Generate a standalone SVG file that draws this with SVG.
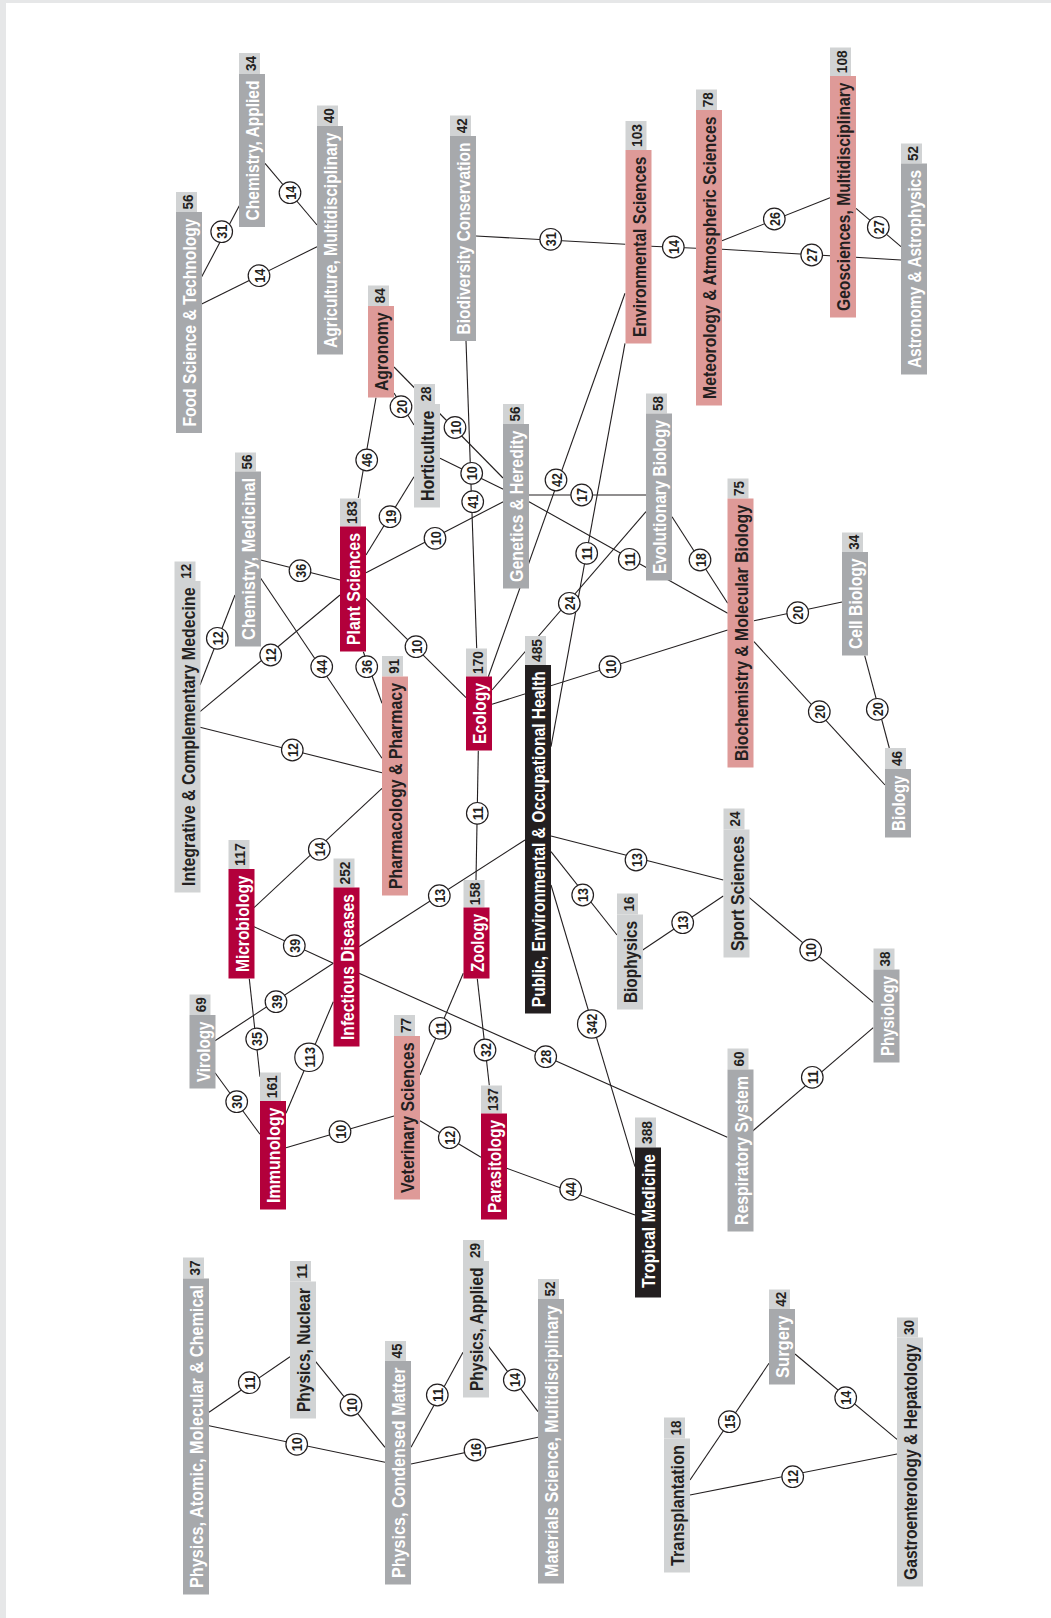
<svg xmlns="http://www.w3.org/2000/svg" width="1051" height="1618" viewBox="0 0 1051 1618">
<style>
text{font-family:"Liberation Sans Narrow","Liberation Sans",Arial,sans-serif;font-weight:bold}
.lb{font-size:19px;text-anchor:middle}
.cn{font-size:15.5px;text-anchor:middle;fill:#231f20}
.red .bx{fill:#b3003b}.red .lb{fill:#fff}
.pink .bx{fill:#de9a98}.pink .lb{fill:#231f20}
.gray .bx{fill:#a7a9ac}.gray .lb{fill:#fff}
.lgray .bx{fill:#d1d3d4}.lgray .lb{fill:#231f20}
.black .bx{fill:#231f20}.black .lb{fill:#fff}
.cb{fill:#d1d3d4}
#connectors line{stroke:#231f20;stroke-width:1.1}
.el circle{fill:#fff;stroke:#231f20;stroke-width:1.2}
.el text{font-size:15.5px;text-anchor:middle;fill:#231f20}
</style>
<rect width="1051" height="1618" fill="#e6e7e8"/>
<rect x="6" y="3" width="1045" height="1615" fill="#fff"/>
<g id="connectors">
<line x1="201.7" y1="276.7" x2="239.3" y2="205.7"/>
<line x1="265" y1="163.3" x2="317" y2="225"/>
<line x1="201.7" y1="304" x2="317" y2="246.7"/>
<line x1="476" y1="236" x2="625.3" y2="244.3"/>
<line x1="651" y1="246.3" x2="696" y2="248.3"/>
<line x1="722" y1="240.7" x2="830" y2="197.7"/>
<line x1="722" y1="249.3" x2="901" y2="260"/>
<line x1="856" y1="208.3" x2="901" y2="246.7"/>
<line x1="394" y1="393" x2="414" y2="425"/>
<line x1="394" y1="367" x2="503" y2="478"/>
<line x1="358.3" y1="498" x2="376" y2="397.7"/>
<line x1="366" y1="555" x2="414" y2="476.7"/>
<line x1="440" y1="458.3" x2="503.3" y2="489.3"/>
<line x1="466" y1="340.7" x2="476.7" y2="648.3"/>
<line x1="366" y1="572.7" x2="503.3" y2="501.7"/>
<line x1="529" y1="495" x2="646" y2="495"/>
<line x1="488.3" y1="676.7" x2="625" y2="293.3"/>
<line x1="551" y1="746.7" x2="625" y2="343.3"/>
<line x1="529" y1="501.7" x2="727.7" y2="613.3"/>
<line x1="672" y1="516.7" x2="727.7" y2="603.3"/>
<line x1="492" y1="690" x2="646" y2="511.7"/>
<line x1="492" y1="704.3" x2="727.7" y2="630"/>
<line x1="754" y1="620.7" x2="842" y2="602"/>
<line x1="754" y1="641.7" x2="885" y2="785"/>
<line x1="864.7" y1="655.7" x2="889.3" y2="748"/>
<line x1="366" y1="598.3" x2="466" y2="697.7"/>
<line x1="363.3" y1="651.7" x2="382" y2="703.3"/>
<line x1="260.7" y1="560" x2="340" y2="580"/>
<line x1="260.7" y1="578.3" x2="382" y2="758.3"/>
<line x1="200" y1="685" x2="235" y2="595"/>
<line x1="200" y1="711.7" x2="340" y2="595"/>
<line x1="200" y1="727.3" x2="382" y2="772.7"/>
<line x1="254" y1="907.7" x2="382" y2="788.3"/>
<line x1="478.3" y1="750.7" x2="476" y2="880"/>
<line x1="359" y1="946.7" x2="525" y2="840"/>
<line x1="254" y1="926.7" x2="333.3" y2="963.3"/>
<line x1="215" y1="1040.7" x2="333.3" y2="963.3"/>
<line x1="249.3" y1="978.7" x2="260" y2="1076.7"/>
<line x1="215" y1="1072.7" x2="260" y2="1134.3"/>
<line x1="286" y1="1113.3" x2="333.3" y2="1001.7"/>
<line x1="286" y1="1147.7" x2="394" y2="1116"/>
<line x1="463.3" y1="973.3" x2="420" y2="1075"/>
<line x1="477.3" y1="978.7" x2="489.3" y2="1085.3"/>
<line x1="420" y1="1120.7" x2="481" y2="1157.3"/>
<line x1="506.7" y1="1168.3" x2="635" y2="1215"/>
<line x1="359" y1="973.3" x2="727.3" y2="1137.3"/>
<line x1="551" y1="885" x2="635" y2="1166.7"/>
<line x1="551" y1="836" x2="723.3" y2="880"/>
<line x1="551" y1="851.7" x2="617" y2="935"/>
<line x1="642.7" y1="950" x2="723.3" y2="896"/>
<line x1="749" y1="897.3" x2="873.3" y2="1002.3"/>
<line x1="752.7" y1="1131" x2="873.3" y2="1027.7"/>
<line x1="209" y1="1412.3" x2="290" y2="1356.7"/>
<line x1="209" y1="1425.7" x2="385" y2="1462.3"/>
<line x1="315.7" y1="1361.7" x2="385" y2="1447.3"/>
<line x1="411" y1="1447.3" x2="463" y2="1352.3"/>
<line x1="488.7" y1="1346.7" x2="538" y2="1411.7"/>
<line x1="411" y1="1464" x2="538" y2="1437.3"/>
<line x1="690" y1="1480" x2="769" y2="1363.3"/>
<line x1="690" y1="1495" x2="897" y2="1454"/>
<line x1="795" y1="1354" x2="897" y2="1439.3"/>
<g class="el" transform="translate(221.7,231.7)"><circle r="10.8"/><text transform="translate(5.6,0) rotate(-90)" textLength="14" lengthAdjust="spacingAndGlyphs">31</text></g>
<g class="el" transform="translate(290,192.7)"><circle r="10.8"/><text transform="translate(5.6,0) rotate(-90)" textLength="14" lengthAdjust="spacingAndGlyphs">14</text></g>
<g class="el" transform="translate(259,275.7)"><circle r="10.8"/><text transform="translate(5.6,0) rotate(-90)" textLength="14" lengthAdjust="spacingAndGlyphs">14</text></g>
<g class="el" transform="translate(550.7,239.3)"><circle r="10.8"/><text transform="translate(5.6,0) rotate(-90)" textLength="14" lengthAdjust="spacingAndGlyphs">31</text></g>
<g class="el" transform="translate(673.3,247)"><circle r="10.8"/><text transform="translate(5.6,0) rotate(-90)" textLength="14" lengthAdjust="spacingAndGlyphs">14</text></g>
<g class="el" transform="translate(774.3,219)"><circle r="10.8"/><text transform="translate(5.6,0) rotate(-90)" textLength="14" lengthAdjust="spacingAndGlyphs">26</text></g>
<g class="el" transform="translate(811.7,255)"><circle r="10.8"/><text transform="translate(5.6,0) rotate(-90)" textLength="14" lengthAdjust="spacingAndGlyphs">27</text></g>
<g class="el" transform="translate(878.3,227.3)"><circle r="10.8"/><text transform="translate(5.6,0) rotate(-90)" textLength="14" lengthAdjust="spacingAndGlyphs">27</text></g>
<g class="el" transform="translate(401,406.7)"><circle r="10.8"/><text transform="translate(5.6,0) rotate(-90)" textLength="14" lengthAdjust="spacingAndGlyphs">20</text></g>
<g class="el" transform="translate(455,427.5)"><circle r="10.8"/><text transform="translate(5.6,0) rotate(-90)" textLength="14" lengthAdjust="spacingAndGlyphs">10</text></g>
<g class="el" transform="translate(366.7,460)"><circle r="10.8"/><text transform="translate(5.6,0) rotate(-90)" textLength="14" lengthAdjust="spacingAndGlyphs">46</text></g>
<g class="el" transform="translate(390,516.7)"><circle r="10.8"/><text transform="translate(5.6,0) rotate(-90)" textLength="14" lengthAdjust="spacingAndGlyphs">19</text></g>
<g class="el" transform="translate(471.7,473.3)"><circle r="10.8"/><text transform="translate(5.6,0) rotate(-90)" textLength="14" lengthAdjust="spacingAndGlyphs">10</text></g>
<g class="el" transform="translate(472.7,501.7)"><circle r="10.8"/><text transform="translate(5.6,0) rotate(-90)" textLength="14" lengthAdjust="spacingAndGlyphs">41</text></g>
<g class="el" transform="translate(435,538.3)"><circle r="10.8"/><text transform="translate(5.6,0) rotate(-90)" textLength="14" lengthAdjust="spacingAndGlyphs">10</text></g>
<g class="el" transform="translate(581.7,495)"><circle r="10.8"/><text transform="translate(5.6,0) rotate(-90)" textLength="14" lengthAdjust="spacingAndGlyphs">17</text></g>
<g class="el" transform="translate(556,480)"><circle r="10.8"/><text transform="translate(5.6,0) rotate(-90)" textLength="14" lengthAdjust="spacingAndGlyphs">42</text></g>
<g class="el" transform="translate(586.7,553.3)"><circle r="10.8"/><text transform="translate(5.6,0) rotate(-90)" textLength="14" lengthAdjust="spacingAndGlyphs">11</text></g>
<g class="el" transform="translate(629.3,559.3)"><circle r="10.8"/><text transform="translate(5.6,0) rotate(-90)" textLength="14" lengthAdjust="spacingAndGlyphs">11</text></g>
<g class="el" transform="translate(700,560)"><circle r="10.8"/><text transform="translate(5.6,0) rotate(-90)" textLength="14" lengthAdjust="spacingAndGlyphs">18</text></g>
<g class="el" transform="translate(569.3,603.3)"><circle r="10.8"/><text transform="translate(5.6,0) rotate(-90)" textLength="14" lengthAdjust="spacingAndGlyphs">24</text></g>
<g class="el" transform="translate(610,666.7)"><circle r="10.8"/><text transform="translate(5.6,0) rotate(-90)" textLength="14" lengthAdjust="spacingAndGlyphs">10</text></g>
<g class="el" transform="translate(797.7,612.7)"><circle r="10.8"/><text transform="translate(5.6,0) rotate(-90)" textLength="14" lengthAdjust="spacingAndGlyphs">20</text></g>
<g class="el" transform="translate(819.3,711.7)"><circle r="10.8"/><text transform="translate(5.6,0) rotate(-90)" textLength="14" lengthAdjust="spacingAndGlyphs">20</text></g>
<g class="el" transform="translate(877.3,709.3)"><circle r="10.8"/><text transform="translate(5.6,0) rotate(-90)" textLength="14" lengthAdjust="spacingAndGlyphs">20</text></g>
<g class="el" transform="translate(416,646.7)"><circle r="10.8"/><text transform="translate(5.6,0) rotate(-90)" textLength="14" lengthAdjust="spacingAndGlyphs">10</text></g>
<g class="el" transform="translate(366.7,666.7)"><circle r="10.8"/><text transform="translate(5.6,0) rotate(-90)" textLength="14" lengthAdjust="spacingAndGlyphs">36</text></g>
<g class="el" transform="translate(300,570.7)"><circle r="10.8"/><text transform="translate(5.6,0) rotate(-90)" textLength="14" lengthAdjust="spacingAndGlyphs">36</text></g>
<g class="el" transform="translate(321.7,666.7)"><circle r="10.8"/><text transform="translate(5.6,0) rotate(-90)" textLength="14" lengthAdjust="spacingAndGlyphs">44</text></g>
<g class="el" transform="translate(217.3,638.3)"><circle r="10.8"/><text transform="translate(5.6,0) rotate(-90)" textLength="14" lengthAdjust="spacingAndGlyphs">12</text></g>
<g class="el" transform="translate(270.7,655)"><circle r="10.8"/><text transform="translate(5.6,0) rotate(-90)" textLength="14" lengthAdjust="spacingAndGlyphs">12</text></g>
<g class="el" transform="translate(292.3,750)"><circle r="10.8"/><text transform="translate(5.6,0) rotate(-90)" textLength="14" lengthAdjust="spacingAndGlyphs">12</text></g>
<g class="el" transform="translate(319.3,849.3)"><circle r="10.8"/><text transform="translate(5.6,0) rotate(-90)" textLength="14" lengthAdjust="spacingAndGlyphs">14</text></g>
<g class="el" transform="translate(477.3,813.3)"><circle r="10.8"/><text transform="translate(5.6,0) rotate(-90)" textLength="14" lengthAdjust="spacingAndGlyphs">11</text></g>
<g class="el" transform="translate(439.3,895.7)"><circle r="10.8"/><text transform="translate(5.6,0) rotate(-90)" textLength="14" lengthAdjust="spacingAndGlyphs">13</text></g>
<g class="el" transform="translate(294.3,945.7)"><circle r="10.8"/><text transform="translate(5.6,0) rotate(-90)" textLength="14" lengthAdjust="spacingAndGlyphs">39</text></g>
<g class="el" transform="translate(276,1001.7)"><circle r="10.8"/><text transform="translate(5.6,0) rotate(-90)" textLength="14" lengthAdjust="spacingAndGlyphs">39</text></g>
<g class="el" transform="translate(256.7,1039)"><circle r="10.8"/><text transform="translate(5.6,0) rotate(-90)" textLength="14" lengthAdjust="spacingAndGlyphs">35</text></g>
<g class="el" transform="translate(236.7,1101.7)"><circle r="10.8"/><text transform="translate(5.6,0) rotate(-90)" textLength="14" lengthAdjust="spacingAndGlyphs">30</text></g>
<g class="el" transform="translate(309,1057.3)"><circle r="14.2"/><text transform="translate(5.6,0) rotate(-90)" textLength="20.5" lengthAdjust="spacingAndGlyphs">113</text></g>
<g class="el" transform="translate(340,1131.7)"><circle r="10.8"/><text transform="translate(5.6,0) rotate(-90)" textLength="14" lengthAdjust="spacingAndGlyphs">10</text></g>
<g class="el" transform="translate(440,1028.3)"><circle r="10.8"/><text transform="translate(5.6,0) rotate(-90)" textLength="14" lengthAdjust="spacingAndGlyphs">11</text></g>
<g class="el" transform="translate(485,1050)"><circle r="10.8"/><text transform="translate(5.6,0) rotate(-90)" textLength="14" lengthAdjust="spacingAndGlyphs">32</text></g>
<g class="el" transform="translate(449.3,1137.7)"><circle r="10.8"/><text transform="translate(5.6,0) rotate(-90)" textLength="14" lengthAdjust="spacingAndGlyphs">12</text></g>
<g class="el" transform="translate(570.7,1189.3)"><circle r="10.8"/><text transform="translate(5.6,0) rotate(-90)" textLength="14" lengthAdjust="spacingAndGlyphs">44</text></g>
<g class="el" transform="translate(545.7,1056.7)"><circle r="10.8"/><text transform="translate(5.6,0) rotate(-90)" textLength="14" lengthAdjust="spacingAndGlyphs">28</text></g>
<g class="el" transform="translate(591.7,1024)"><circle r="14.2"/><text transform="translate(5.6,0) rotate(-90)" textLength="20.5" lengthAdjust="spacingAndGlyphs">342</text></g>
<g class="el" transform="translate(636,860)"><circle r="10.8"/><text transform="translate(5.6,0) rotate(-90)" textLength="14" lengthAdjust="spacingAndGlyphs">13</text></g>
<g class="el" transform="translate(582.7,895)"><circle r="10.8"/><text transform="translate(5.6,0) rotate(-90)" textLength="14" lengthAdjust="spacingAndGlyphs">13</text></g>
<g class="el" transform="translate(682.7,922.7)"><circle r="10.8"/><text transform="translate(5.6,0) rotate(-90)" textLength="14" lengthAdjust="spacingAndGlyphs">13</text></g>
<g class="el" transform="translate(810.7,950)"><circle r="10.8"/><text transform="translate(5.6,0) rotate(-90)" textLength="14" lengthAdjust="spacingAndGlyphs">10</text></g>
<g class="el" transform="translate(812.3,1077.3)"><circle r="10.8"/><text transform="translate(5.6,0) rotate(-90)" textLength="14" lengthAdjust="spacingAndGlyphs">11</text></g>
<g class="el" transform="translate(249.3,1382.7)"><circle r="10.8"/><text transform="translate(5.6,0) rotate(-90)" textLength="14" lengthAdjust="spacingAndGlyphs">11</text></g>
<g class="el" transform="translate(296.7,1444.3)"><circle r="10.8"/><text transform="translate(5.6,0) rotate(-90)" textLength="14" lengthAdjust="spacingAndGlyphs">10</text></g>
<g class="el" transform="translate(351,1405)"><circle r="10.8"/><text transform="translate(5.6,0) rotate(-90)" textLength="14" lengthAdjust="spacingAndGlyphs">10</text></g>
<g class="el" transform="translate(437.3,1395)"><circle r="10.8"/><text transform="translate(5.6,0) rotate(-90)" textLength="14" lengthAdjust="spacingAndGlyphs">11</text></g>
<g class="el" transform="translate(514.3,1380)"><circle r="10.8"/><text transform="translate(5.6,0) rotate(-90)" textLength="14" lengthAdjust="spacingAndGlyphs">14</text></g>
<g class="el" transform="translate(475,1450)"><circle r="10.8"/><text transform="translate(5.6,0) rotate(-90)" textLength="14" lengthAdjust="spacingAndGlyphs">16</text></g>
<g class="el" transform="translate(729.3,1421.7)"><circle r="10.8"/><text transform="translate(5.6,0) rotate(-90)" textLength="14" lengthAdjust="spacingAndGlyphs">15</text></g>
<g class="el" transform="translate(792.7,1476.7)"><circle r="10.8"/><text transform="translate(5.6,0) rotate(-90)" textLength="14" lengthAdjust="spacingAndGlyphs">12</text></g>
<g class="el" transform="translate(845.7,1397.7)"><circle r="10.8"/><text transform="translate(5.6,0) rotate(-90)" textLength="14" lengthAdjust="spacingAndGlyphs">14</text></g>
</g>
<g id="n-food" class="gray"><rect class="cb" x="176" y="192" width="21" height="20"/><text class="cn" transform="translate(192.5,202) rotate(-90)" textLength="15" lengthAdjust="spacingAndGlyphs">56</text><rect class="bx" x="176" y="212" width="26" height="221"/><text class="lb" transform="translate(196,322.5) rotate(-90)" textLength="208" lengthAdjust="spacingAndGlyphs">Food Science &amp; Technology</text></g>
<g id="n-chemapp" class="gray"><rect class="cb" x="239" y="53" width="21" height="21"/><text class="cn" transform="translate(255.5,63.5) rotate(-90)" textLength="15" lengthAdjust="spacingAndGlyphs">34</text><rect class="bx" x="239" y="74" width="26" height="153"/><text class="lb" transform="translate(259,150.5) rotate(-90)" textLength="140" lengthAdjust="spacingAndGlyphs">Chemistry, Applied</text></g>
<g id="n-agri" class="gray"><rect class="cb" x="317" y="105.5" width="21" height="20.5"/><text class="cn" transform="translate(333.5,115.75) rotate(-90)" textLength="15" lengthAdjust="spacingAndGlyphs">40</text><rect class="bx" x="317" y="126" width="26" height="228.5"/><text class="lb" transform="translate(337,240.25) rotate(-90)" textLength="215.5" lengthAdjust="spacingAndGlyphs">Agriculture, Multidisciplinary</text></g>
<g id="n-biodiv" class="gray"><rect class="cb" x="450" y="115.5" width="21" height="20.5"/><text class="cn" transform="translate(466.5,125.75) rotate(-90)" textLength="15" lengthAdjust="spacingAndGlyphs">42</text><rect class="bx" x="450" y="136" width="26" height="205"/><text class="lb" transform="translate(470,238.5) rotate(-90)" textLength="192" lengthAdjust="spacingAndGlyphs">Biodiversity Conservation</text></g>
<g id="n-envsci" class="pink"><rect class="cb" x="625.5" y="121" width="21" height="29"/><text class="cn" transform="translate(642,135.5) rotate(-90)" textLength="23" lengthAdjust="spacingAndGlyphs">103</text><rect class="bx" x="625.5" y="150" width="26" height="193.5"/><text class="lb" transform="translate(645.5,246.75) rotate(-90)" textLength="180.5" lengthAdjust="spacingAndGlyphs">Environmental Sciences</text></g>
<g id="n-meteo" class="pink"><rect class="cb" x="696" y="89.5" width="21" height="20.5"/><text class="cn" transform="translate(712.5,99.75) rotate(-90)" textLength="15" lengthAdjust="spacingAndGlyphs">78</text><rect class="bx" x="696" y="110" width="26" height="295.5"/><text class="lb" transform="translate(716,257.75) rotate(-90)" textLength="282.5" lengthAdjust="spacingAndGlyphs">Meteorology &amp; Atmospheric Sciences</text></g>
<g id="n-geo" class="pink"><rect class="cb" x="830" y="47.5" width="21" height="28.5"/><text class="cn" transform="translate(846.5,61.75) rotate(-90)" textLength="23" lengthAdjust="spacingAndGlyphs">108</text><rect class="bx" x="830" y="76" width="26" height="241.5"/><text class="lb" transform="translate(850,196.75) rotate(-90)" textLength="228.5" lengthAdjust="spacingAndGlyphs">Geosciences, Multidisciplinary</text></g>
<g id="n-astro" class="gray"><rect class="cb" x="901" y="143.5" width="21" height="20"/><text class="cn" transform="translate(917.5,153.5) rotate(-90)" textLength="15" lengthAdjust="spacingAndGlyphs">52</text><rect class="bx" x="901" y="163.5" width="26" height="211"/><text class="lb" transform="translate(921,269) rotate(-90)" textLength="198" lengthAdjust="spacingAndGlyphs">Astronomy &amp; Astrophysics</text></g>
<g id="n-agron" class="pink"><rect class="cb" x="368" y="285.5" width="21" height="20.5"/><text class="cn" transform="translate(384.5,295.75) rotate(-90)" textLength="15" lengthAdjust="spacingAndGlyphs">84</text><rect class="bx" x="368" y="306" width="26" height="91.5"/><text class="lb" transform="translate(388,351.75) rotate(-90)" textLength="78.5" lengthAdjust="spacingAndGlyphs">Agronomy</text></g>
<g id="n-hort" class="lgray"><rect class="cb" x="414" y="384" width="21" height="20"/><text class="cn" transform="translate(430.5,394) rotate(-90)" textLength="15" lengthAdjust="spacingAndGlyphs">28</text><rect class="bx" x="414" y="404" width="26" height="103.5"/><text class="lb" transform="translate(434,455.75) rotate(-90)" textLength="90.5" lengthAdjust="spacingAndGlyphs">Horticulture</text></g>
<g id="n-genet" class="gray"><rect class="cb" x="503" y="404" width="21" height="20"/><text class="cn" transform="translate(519.5,414) rotate(-90)" textLength="15" lengthAdjust="spacingAndGlyphs">56</text><rect class="bx" x="503" y="424" width="26" height="164.5"/><text class="lb" transform="translate(523,506.25) rotate(-90)" textLength="151.5" lengthAdjust="spacingAndGlyphs">Genetics &amp; Heredity</text></g>
<g id="n-evol" class="gray"><rect class="cb" x="646" y="393.5" width="21" height="20"/><text class="cn" transform="translate(662.5,403.5) rotate(-90)" textLength="15" lengthAdjust="spacingAndGlyphs">58</text><rect class="bx" x="646" y="413.5" width="26" height="167"/><text class="lb" transform="translate(666,497) rotate(-90)" textLength="154" lengthAdjust="spacingAndGlyphs">Evolutionary Biology</text></g>
<g id="n-plant" class="red"><rect class="cb" x="340" y="498.5" width="21" height="28"/><text class="cn" transform="translate(356.5,512.5) rotate(-90)" textLength="23" lengthAdjust="spacingAndGlyphs">183</text><rect class="bx" x="340" y="526.5" width="26" height="125"/><text class="lb" transform="translate(360,589) rotate(-90)" textLength="112" lengthAdjust="spacingAndGlyphs">Plant Sciences</text></g>
<g id="n-chemmed" class="gray"><rect class="cb" x="235" y="452.5" width="21" height="19"/><text class="cn" transform="translate(251.5,462) rotate(-90)" textLength="15" lengthAdjust="spacingAndGlyphs">56</text><rect class="bx" x="235" y="471.5" width="26" height="175"/><text class="lb" transform="translate(255,559) rotate(-90)" textLength="162" lengthAdjust="spacingAndGlyphs">Chemistry, Medicinal</text></g>
<g id="n-integ" class="lgray"><rect class="cb" x="174.5" y="561.5" width="21" height="19.5"/><text class="cn" transform="translate(191,571.25) rotate(-90)" textLength="15" lengthAdjust="spacingAndGlyphs">12</text><rect class="bx" x="174.5" y="581" width="26" height="311.5"/><text class="lb" transform="translate(194.5,736.75) rotate(-90)" textLength="298.5" lengthAdjust="spacingAndGlyphs">Integrative &amp; Complementary Medecine</text></g>
<g id="n-pharm" class="pink"><rect class="cb" x="382" y="656" width="21" height="20.5"/><text class="cn" transform="translate(398.5,666.25) rotate(-90)" textLength="15" lengthAdjust="spacingAndGlyphs">91</text><rect class="bx" x="382" y="676.5" width="26" height="219"/><text class="lb" transform="translate(402,786) rotate(-90)" textLength="206" lengthAdjust="spacingAndGlyphs">Pharmacology &amp; Pharmacy</text></g>
<g id="n-ecol" class="red"><rect class="cb" x="466" y="648.5" width="21" height="28"/><text class="cn" transform="translate(482.5,662.5) rotate(-90)" textLength="23" lengthAdjust="spacingAndGlyphs">170</text><rect class="bx" x="466" y="676.5" width="26" height="74"/><text class="lb" transform="translate(486,713.5) rotate(-90)" textLength="61" lengthAdjust="spacingAndGlyphs">Ecology</text></g>
<g id="n-pubh" class="black"><rect class="cb" x="525" y="636" width="21" height="29"/><text class="cn" transform="translate(541.5,650.5) rotate(-90)" textLength="23" lengthAdjust="spacingAndGlyphs">485</text><rect class="bx" x="525" y="665" width="26" height="348.5"/><text class="lb" transform="translate(545,839.25) rotate(-90)" textLength="336" lengthAdjust="spacingAndGlyphs">Public, Environmental &amp; Occupational Health</text></g>
<g id="n-biochem" class="pink"><rect class="cb" x="727.5" y="478.5" width="21" height="20"/><text class="cn" transform="translate(744,488.5) rotate(-90)" textLength="15" lengthAdjust="spacingAndGlyphs">75</text><rect class="bx" x="727.5" y="498.5" width="26" height="269"/><text class="lb" transform="translate(747.5,633) rotate(-90)" textLength="256" lengthAdjust="spacingAndGlyphs">Biochemistry &amp; Molecular Biology</text></g>
<g id="n-cellbio" class="gray"><rect class="cb" x="842" y="532.5" width="21" height="19.5"/><text class="cn" transform="translate(858.5,542.25) rotate(-90)" textLength="15" lengthAdjust="spacingAndGlyphs">34</text><rect class="bx" x="842" y="552" width="26" height="103.5"/><text class="lb" transform="translate(862,603.75) rotate(-90)" textLength="90.5" lengthAdjust="spacingAndGlyphs">Cell Biology</text></g>
<g id="n-biology" class="gray"><rect class="cb" x="885" y="748" width="21" height="21"/><text class="cn" transform="translate(901.5,758.5) rotate(-90)" textLength="15" lengthAdjust="spacingAndGlyphs">46</text><rect class="bx" x="885" y="769" width="26" height="68.5"/><text class="lb" transform="translate(905,803.25) rotate(-90)" textLength="55.5" lengthAdjust="spacingAndGlyphs">Biology</text></g>
<g id="n-micro" class="red"><rect class="cb" x="228.5" y="840" width="21" height="29"/><text class="cn" transform="translate(245,854.5) rotate(-90)" textLength="23" lengthAdjust="spacingAndGlyphs">117</text><rect class="bx" x="228.5" y="869" width="26" height="109.5"/><text class="lb" transform="translate(248.5,923.75) rotate(-90)" textLength="96.5" lengthAdjust="spacingAndGlyphs">Microbiology</text></g>
<g id="n-infect" class="red"><rect class="cb" x="333.5" y="858.5" width="21" height="29"/><text class="cn" transform="translate(350,873) rotate(-90)" textLength="23" lengthAdjust="spacingAndGlyphs">252</text><rect class="bx" x="333.5" y="887.5" width="26" height="159"/><text class="lb" transform="translate(353.5,967) rotate(-90)" textLength="146" lengthAdjust="spacingAndGlyphs">Infectious Diseases</text></g>
<g id="n-viro" class="gray"><rect class="cb" x="189.5" y="994.5" width="21" height="20.5"/><text class="cn" transform="translate(206,1004.75) rotate(-90)" textLength="15" lengthAdjust="spacingAndGlyphs">69</text><rect class="bx" x="189.5" y="1015" width="26" height="73.5"/><text class="lb" transform="translate(209.5,1051.75) rotate(-90)" textLength="60.5" lengthAdjust="spacingAndGlyphs">Virology</text></g>
<g id="n-immuno" class="red"><rect class="cb" x="260" y="1072.5" width="21" height="28.5"/><text class="cn" transform="translate(276.5,1086.75) rotate(-90)" textLength="23" lengthAdjust="spacingAndGlyphs">161</text><rect class="bx" x="260" y="1101" width="26" height="108.5"/><text class="lb" transform="translate(280,1155.25) rotate(-90)" textLength="95.5" lengthAdjust="spacingAndGlyphs">Immunology</text></g>
<g id="n-zoo" class="red"><rect class="cb" x="463.5" y="880" width="21" height="27.5"/><text class="cn" transform="translate(480,893.75) rotate(-90)" textLength="23" lengthAdjust="spacingAndGlyphs">158</text><rect class="bx" x="463.5" y="907.5" width="26" height="71"/><text class="lb" transform="translate(483.5,943) rotate(-90)" textLength="58" lengthAdjust="spacingAndGlyphs">Zoology</text></g>
<g id="n-vet" class="pink"><rect class="cb" x="394" y="1015" width="21" height="21"/><text class="cn" transform="translate(410.5,1025.5) rotate(-90)" textLength="15" lengthAdjust="spacingAndGlyphs">77</text><rect class="bx" x="394" y="1036" width="26" height="163.5"/><text class="lb" transform="translate(414,1117.75) rotate(-90)" textLength="150.5" lengthAdjust="spacingAndGlyphs">Veterinary Sciences</text></g>
<g id="n-para" class="red"><rect class="cb" x="481" y="1085.5" width="21" height="28"/><text class="cn" transform="translate(497.5,1099.5) rotate(-90)" textLength="23" lengthAdjust="spacingAndGlyphs">137</text><rect class="bx" x="481" y="1113.5" width="26" height="106"/><text class="lb" transform="translate(501,1166.5) rotate(-90)" textLength="93" lengthAdjust="spacingAndGlyphs">Parasitology</text></g>
<g id="n-biophys" class="lgray"><rect class="cb" x="617" y="893.5" width="21" height="21"/><text class="cn" transform="translate(633.5,904) rotate(-90)" textLength="15" lengthAdjust="spacingAndGlyphs">16</text><rect class="bx" x="617" y="914.5" width="26" height="95"/><text class="lb" transform="translate(637,962) rotate(-90)" textLength="82" lengthAdjust="spacingAndGlyphs">Biophysics</text></g>
<g id="n-trop" class="black"><rect class="cb" x="635" y="1117.5" width="21" height="30"/><text class="cn" transform="translate(651.5,1132.5) rotate(-90)" textLength="23" lengthAdjust="spacingAndGlyphs">388</text><rect class="bx" x="635" y="1147.5" width="26" height="150"/><text class="lb" transform="translate(655,1221) rotate(-90)" textLength="134" lengthAdjust="spacingAndGlyphs">Tropical Medicine</text></g>
<g id="n-sport" class="lgray"><rect class="cb" x="723.5" y="808.5" width="21" height="21"/><text class="cn" transform="translate(740,819) rotate(-90)" textLength="15" lengthAdjust="spacingAndGlyphs">24</text><rect class="bx" x="723.5" y="829.5" width="26" height="128"/><text class="lb" transform="translate(743.5,893.5) rotate(-90)" textLength="115" lengthAdjust="spacingAndGlyphs">Sport Sciences</text></g>
<g id="n-physio" class="gray"><rect class="cb" x="873.5" y="948.5" width="21" height="21"/><text class="cn" transform="translate(890,959) rotate(-90)" textLength="15" lengthAdjust="spacingAndGlyphs">38</text><rect class="bx" x="873.5" y="969.5" width="26" height="93"/><text class="lb" transform="translate(893.5,1016) rotate(-90)" textLength="80" lengthAdjust="spacingAndGlyphs">Physiology</text></g>
<g id="n-resp" class="gray"><rect class="cb" x="727.5" y="1048.5" width="21" height="21"/><text class="cn" transform="translate(744,1059) rotate(-90)" textLength="15" lengthAdjust="spacingAndGlyphs">60</text><rect class="bx" x="727.5" y="1069.5" width="26" height="162"/><text class="lb" transform="translate(747.5,1150.5) rotate(-90)" textLength="149" lengthAdjust="spacingAndGlyphs">Respiratory System</text></g>
<g id="n-atomic" class="gray"><rect class="cb" x="183" y="1257.5" width="21" height="21"/><text class="cn" transform="translate(199.5,1268) rotate(-90)" textLength="15" lengthAdjust="spacingAndGlyphs">37</text><rect class="bx" x="183" y="1278.5" width="26" height="316"/><text class="lb" transform="translate(203,1436.5) rotate(-90)" textLength="303" lengthAdjust="spacingAndGlyphs">Physics, Atomic, Molecular &amp; Chemical</text></g>
<g id="n-nuclear" class="lgray"><rect class="cb" x="290" y="1261" width="21" height="20.5"/><text class="cn" transform="translate(306.5,1271.25) rotate(-90)" textLength="15" lengthAdjust="spacingAndGlyphs">11</text><rect class="bx" x="290" y="1281.5" width="26" height="137"/><text class="lb" transform="translate(310,1350) rotate(-90)" textLength="124" lengthAdjust="spacingAndGlyphs">Physics, Nuclear</text></g>
<g id="n-condensed" class="gray"><rect class="cb" x="385" y="1341" width="21" height="20"/><text class="cn" transform="translate(401.5,1351) rotate(-90)" textLength="15" lengthAdjust="spacingAndGlyphs">45</text><rect class="bx" x="385" y="1361" width="26" height="223.5"/><text class="lb" transform="translate(405,1472.75) rotate(-90)" textLength="210.5" lengthAdjust="spacingAndGlyphs">Physics, Condensed Matter</text></g>
<g id="n-applied" class="lgray"><rect class="cb" x="463" y="1240" width="21" height="21"/><text class="cn" transform="translate(479.5,1250.5) rotate(-90)" textLength="15" lengthAdjust="spacingAndGlyphs">29</text><rect class="bx" x="463" y="1261" width="26" height="136.5"/><text class="lb" transform="translate(483,1329.25) rotate(-90)" textLength="123.5" lengthAdjust="spacingAndGlyphs">Physics, Applied</text></g>
<g id="n-materials" class="gray"><rect class="cb" x="538" y="1279" width="21" height="20"/><text class="cn" transform="translate(554.5,1289) rotate(-90)" textLength="15" lengthAdjust="spacingAndGlyphs">52</text><rect class="bx" x="538" y="1299" width="26" height="284.5"/><text class="lb" transform="translate(558,1441.25) rotate(-90)" textLength="271.5" lengthAdjust="spacingAndGlyphs">Materials Science, Multidisciplinary</text></g>
<g id="n-transplant" class="lgray"><rect class="cb" x="664" y="1417.5" width="21" height="21"/><text class="cn" transform="translate(680.5,1428) rotate(-90)" textLength="15" lengthAdjust="spacingAndGlyphs">18</text><rect class="bx" x="664" y="1438.5" width="26" height="134"/><text class="lb" transform="translate(684,1505.5) rotate(-90)" textLength="121" lengthAdjust="spacingAndGlyphs">Transplantation</text></g>
<g id="n-surgery" class="gray"><rect class="cb" x="769" y="1289.5" width="21" height="19.5"/><text class="cn" transform="translate(785.5,1299.25) rotate(-90)" textLength="15" lengthAdjust="spacingAndGlyphs">42</text><rect class="bx" x="769" y="1309" width="26" height="75.5"/><text class="lb" transform="translate(789,1346.75) rotate(-90)" textLength="62.5" lengthAdjust="spacingAndGlyphs">Surgery</text></g>
<g id="n-gastro" class="lgray"><rect class="cb" x="897" y="1317.5" width="21" height="20"/><text class="cn" transform="translate(913.5,1327.5) rotate(-90)" textLength="15" lengthAdjust="spacingAndGlyphs">30</text><rect class="bx" x="897" y="1337.5" width="26" height="249"/><text class="lb" transform="translate(917,1462) rotate(-90)" textLength="236" lengthAdjust="spacingAndGlyphs">Gastroenterology &amp; Hepatology</text></g>
</svg>
